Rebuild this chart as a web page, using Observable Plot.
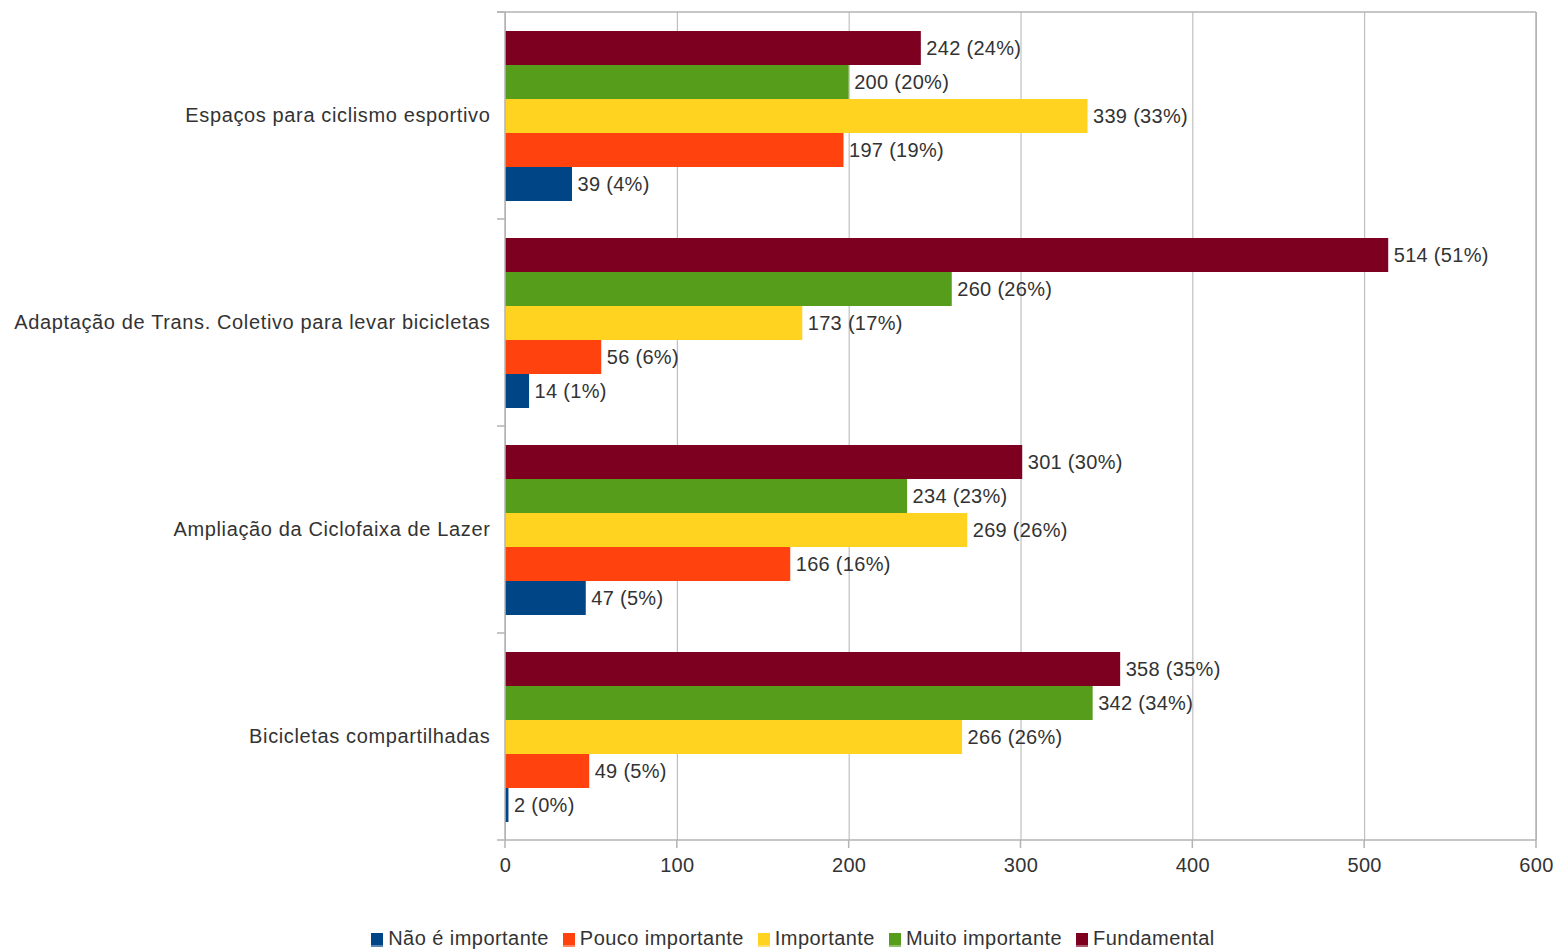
<!DOCTYPE html>
<html>
<head>
<meta charset="utf-8">
<script src="https://cdn.jsdelivr.net/npm/d3@7"></script>
<script src="https://cdn.jsdelivr.net/npm/@observablehq/plot@0.6"></script>
<style>
  html, body { margin: 0; padding: 0; background: #fff; }
  #legend { display: flex; justify-content: center; align-items: center; height: 50px; padding-left: 30px; box-sizing: border-box;
    font-family: "Liberation Sans", Arial, sans-serif; font-size: 20px; color: #333; letter-spacing: 0.45px; }
  #legend .item { display: flex; align-items: center; margin: 0 7px; position: relative; top: 13px; }
  #legend .sw { width: 12px; height: 14px; margin-right: 5px; position: relative; top: 2px; box-shadow: inset 0 -2px 0 rgba(255,255,255,0.35); }
</style>
</head>
<body>
<div id="chart"></div>
<div id="legend"></div>
<script>
const categories = [
  "Espaços para ciclismo esportivo",
  "Adaptação de Trans. Coletivo para levar bicicletas",
  "Ampliação da Ciclofaixa de Lazer",
  "Bicicletas compartilhadas"
];
const series = ["Não é importante", "Pouco importante", "Importante", "Muito importante", "Fundamental"];
const colors = ["#004586", "#ff420e", "#ffd320", "#579d1c", "#7e0021"];

const naoImportante   = [39, 14, 47, 2];
const poucoImportante = [197, 56, 166, 49];
const importante      = [339, 173, 269, 266];
const muitoImportante = [200, 260, 234, 342];
const fundamental     = [242, 514, 301, 358];

const naoPct   = [4, 1, 5, 0];
const poucoPct = [19, 6, 16, 5];
const impPct   = [33, 17, 26, 26];
const muitoPct = [20, 26, 23, 34];
const fundPct  = [24, 51, 30, 35];

const xTicks = [0, 100, 200, 300, 400, 500, 600];

const seriesValues = [naoImportante, poucoImportante, importante, muitoImportante, fundamental];
const seriesPcts = [naoPct, poucoPct, impPct, muitoPct, fundPct];

const data = [];
categories.forEach((c, i) => {
  series.forEach((s, j) => {
    data.push({category: c, series: s, value: seriesValues[j][i], pct: seriesPcts[j][i]});
  });
});

const font = "'Liberation Sans', Arial, sans-serif";
const gridColor = "#b3b3b3";

const chart = Plot.plot({
  width: 1556,
  height: 900,
  marginLeft: 505,
  marginRight: 20,
  marginTop: 12,
  marginBottom: 60,
  style: {fontFamily: font, fontSize: "20px", color: "#333", background: "#fff", letterSpacing: "0.3px"},
  x: {domain: [0, 600], ticks: xTicks, tickSize: 0, tickPadding: 17, label: null, tickFormat: d => String(d)},
  y: {domain: series.slice().reverse(), paddingInner: 0, paddingOuter: 0.5, axis: null},
  fy: {domain: categories, padding: 0, axis: "left", label: null, tickSize: 0, tickPadding: 15},
  color: {domain: series, range: colors},
  marks: [
    Plot.ruleX(xTicks, {x: d => d, stroke: gridColor, strokeWidth: 1}),
    Plot.barX(data, {x: "value", y: "series", fy: "category", fill: "series"}),
    Plot.text(data, {x: "value", y: "series", fy: "category", text: d => `${d.value} (${d.pct}%)`,
      textAnchor: "start", dx: 5, fill: "#333", fontSize: 20})
  ]
});

document.getElementById("chart").appendChild(chart);

// wider spacing for the category labels
d3.select(chart).selectAll("[aria-label^='fy-axis'] text").style("letter-spacing", "0.63px");

// frame and tick marks placed via the chart's own scales
const xs = chart.scale("x");
const fys = chart.scale("fy");
const x0 = xs.apply(0), x1 = xs.apply(600);
const yTop = fys.apply(categories[0]);
const yBot = fys.apply(categories[categories.length - 1]) + fys.bandwidth;
const svg = d3.select(chart);
const g = svg.append("g").attr("stroke", gridColor).attr("stroke-width", 1.5).attr("fill", "none");
g.append("line").attr("x1", x0 - 8).attr("x2", x1).attr("y1", yTop).attr("y2", yTop);
g.append("line").attr("x1", x0 - 8).attr("x2", x1).attr("y1", yBot).attr("y2", yBot);
g.append("line").attr("x1", x0).attr("x2", x0).attr("y1", yTop).attr("y2", yBot);
g.append("line").attr("x1", x1).attr("x2", x1).attr("y1", yTop).attr("y2", yBot);
categories.forEach(c => {
  const y = fys.apply(c);
  g.append("line").attr("x1", x0 - 8).attr("x2", x0).attr("y1", y).attr("y2", y);
});
xTicks.forEach(t => {
  const x = xs.apply(t);
  g.append("line").attr("x1", x).attr("x2", x).attr("y1", yBot).attr("y2", yBot + 8);
});

// legend
const legend = document.getElementById("legend");
series.forEach((s, j) => {
  const item = document.createElement("div");
  item.className = "item";
  const sw = document.createElement("span");
  sw.className = "sw";
  sw.style.background = colors[j];
  item.appendChild(sw);
  const t = document.createElement("span");
  t.textContent = s;
  item.appendChild(t);
  legend.appendChild(item);
});
</script>
</body>
</html>
